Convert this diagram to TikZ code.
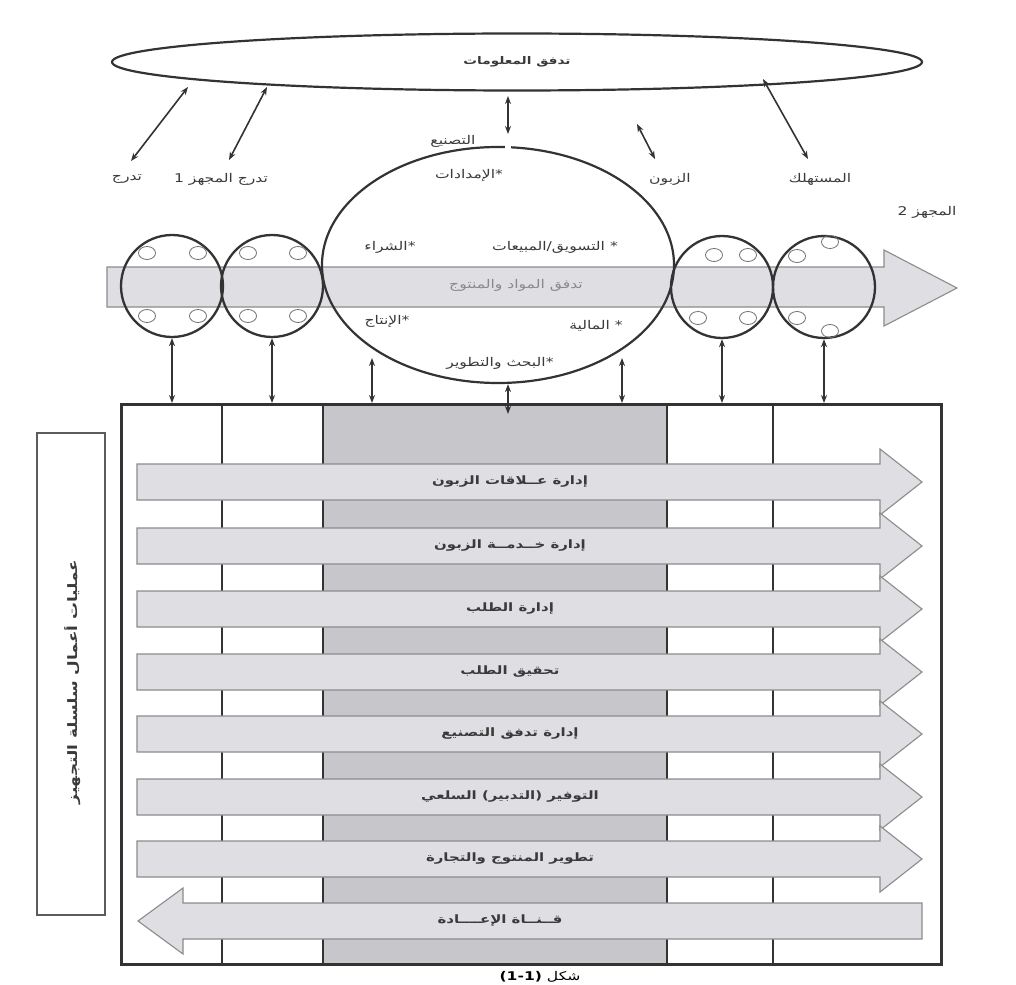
\documentclass[tikz,border=0pt]{standalone}
\usepackage{fontspec}
\usetikzlibrary{shapes.geometric,arrows.meta}
\newfontfamily\arabicfont[Script=Arabic,FakeStretch=1.3]{DejaVu Sans}
\TeXXeTstate=1
\definecolor{ln}{HTML}{333333}
\definecolor{txt}{HTML}{3A3A3A}
\definecolor{bandfill}{HTML}{DEDEE3}
\definecolor{bandline}{HTML}{8C8C8C}
\definecolor{colfill}{HTML}{C6C6CB}
\definecolor{flowtxt}{HTML}{8A8A8A}
\newcommand{\artxt}[1]{{\arabicfont\beginR #1\endR}}
\tikzset{
  lbl/.style={text=txt, inner sep=1pt, font=\fontsize{12}{14}\selectfont},
  dbl/.style={draw=ln, line width=1.6pt, {Stealth[length=8pt,width=6pt]}-{Stealth[length=8pt,width=6pt]}},
  bigcirc/.style={circle, draw=ln, line width=2.3pt, minimum size=102pt, inner sep=0pt},
  dot/.style={ellipse, draw=ln!70, line width=0.8pt, minimum width=17pt, minimum height=13pt, inner sep=0pt},
  procband/.style={draw=bandline, line width=1.1pt, fill=bandfill},
  proctxt/.style={text=txt, font=\fontsize{11.5}{14}\selectfont\bfseries, inner sep=0pt},
}
\begin{document}
\begin{tikzpicture}[x=1pt,y=-1pt]
\useasboundingbox (0,0) rectangle (1016,984);
\fill[white] (0,0) rectangle (1016,984);

% information flow ellipse
\node[ellipse, draw=ln, line width=2.2pt, minimum width=810pt, minimum height=57pt, lbl, font=\fontsize{10.5}{13}\selectfont\bfseries] (info) at (517,62) {\artxt{تدفق المعلومات}};

% labels
\node[lbl] (lt1) at (127,179) {\artxt{تدرج}};
\node[lbl] (lt2) at (221,179) {\artxt{تدرج المجهز 1}};
\node[lbl] (lcust) at (670,179) {\artxt{الزبون}};
\node[lbl] (lcons) at (820,179) {\artxt{المستهلك}};
\node[lbl] (lsup2) at (927,212) {\artxt{المجهز 2}};
\node[lbl] (manu) at (453,141) {\artxt{التصنيع}};

% arrows from info ellipse
\coordinate (a1t) at (188,87); \coordinate (a1b) at (131,161);
\coordinate (a2t) at (267,87); \coordinate (a2b) at (229,160);
\coordinate (a3t) at (508,96); \coordinate (a3b) at (508,134);
\coordinate (a4t) at (637,124); \coordinate (a4b) at (655,159);
\coordinate (a5t) at (763,79); \coordinate (a5b) at (808,159);
\draw[dbl] (a1t) -- (a1b);
\draw[dbl] (a2t) -- (a2b);
\draw[dbl] (a3t) -- (a3b);
\draw[dbl] (a4t) -- (a4b);
\draw[dbl] (a5t) -- (a5b);

% material flow band
\draw[procband] (107,267) -- (884,267) -- (884,250) -- (957,288) -- (884,326) -- (884,307) -- (107,307) -- cycle;
\node[lbl, text=flowtxt] (flow) at (516,285) {\artxt{تدفق المواد والمنتوج}};

% organisation ellipse
\node[ellipse, draw=ln, line width=2.2pt, minimum width=352pt, minimum height=236pt] (org) at (498,265) {};
\fill[white] (505,143) rectangle (511,151);
\node[lbl] (e1) at (469,175) {\artxt{*الإمدادات}};
\node[lbl] (e2) at (555,247) {\artxt{* التسويق/المبيعات}};
\node[lbl] (e3) at (390,247) {\artxt{*الشراء}};
\node[lbl] (e4) at (596,326) {\artxt{* المالية}};
\node[lbl] (e5) at (387,321) {\artxt{*الإنتاج}};
\node[lbl] (e6) at (500,363) {\artxt{*البحث والتطوير}};

% circles
\node[bigcirc] (c1) at (172,286) {};
\node[bigcirc] (c2) at (272,286) {};
\node[bigcirc] (c3) at (722,287) {};
\node[bigcirc] (c4) at (824,287) {};
\node[dot] (d11) at (147,253) {};
\node[dot] (d12) at (198,253) {};
\node[dot] (d13) at (147,316) {};
\node[dot] (d14) at (198,316) {};
\node[dot] (d21) at (248,253) {};
\node[dot] (d22) at (298,253) {};
\node[dot] (d23) at (248,316) {};
\node[dot] (d24) at (298,316) {};
\node[dot] (d31) at (714,255) {};
\node[dot] (d32) at (748,255) {};
\node[dot] (d33) at (698,318) {};
\node[dot] (d34) at (748,318) {};
\node[dot] (d41) at (797,256) {};
\node[dot] (d42) at (830,242) {};
\node[dot] (d43) at (797,318) {};
\node[dot] (d44) at (830,331) {};

% process box
\fill[colfill] (323,403) rectangle (667,963);
\draw[ln, line width=1.8pt] (222,403) -- (222,963);
\draw[ln, line width=1.8pt] (323,403) -- (323,963);
\draw[ln, line width=1.8pt] (667,403) -- (667,963);
\draw[ln, line width=1.8pt] (773,403) -- (773,963);
\node[draw=ln, line width=2.6pt, minimum width=820pt, minimum height=560pt, anchor=north west, inner sep=0pt] (box) at (120,403) {};

% vertical connectors
\draw[dbl] (c1.south) -- (c1.south |- box.north);
\draw[dbl] (c2.south) -- (c2.south |- box.north);
\draw[dbl] (c3.south) -- (c3.south |- box.north);
\draw[dbl] (c4.south) -- (c4.south |- box.north);
\coordinate (o1) at (372,358);
\coordinate (o2) at (622,358);
\coordinate (o3) at (508,414);
\draw[dbl] (o1) -- (o1 |- box.north);
\draw[dbl] (o2) -- (o2 |- box.north);
\draw[dbl] (org.south -| o3) -- (o3);

% process arrows
\foreach \c/\t in {482/{إدارة عــلاقات الزبون},546/{إدارة خــدمــة الزبون},609/{إدارة الطلب},672/{تحقيق الطلب},734/{إدارة تدفق التصنيع},797/{التوفير (التدبير) السلعي},859/{تطوير المنتوج والتجارة}}{
  \draw[procband] (137,\c-18) -- (880,\c-18) -- (880,\c-33) -- (922,\c) -- (880,\c+33) -- (880,\c+18) -- (137,\c+18) -- cycle;
  \node[proctxt] at (510,\c) {\artxt{\t}};
}
\draw[procband] (922,903) -- (183,903) -- (183,888) -- (138,921) -- (183,954) -- (183,939) -- (922,939) -- cycle;
\node[proctxt] (ret) at (500,921) {\artxt{قــنــاة الإعــــادة}};

% side label
\node[draw=ln!80, line width=1.6pt, rotate=90, minimum width=482pt, minimum height=68pt, inner sep=0pt] (proc) at (71,674) {};
\node[rotate=90, text=txt, font=\fontsize{13}{15}\selectfont\bfseries] (proct) at (73,682) {\artxt{عمليات أعمال سلسلة التجهيز}};

% caption
\node[lbl, font=\fontsize{12}{14}\selectfont, text=black] (cap) at (540,977) {\artxt{شكل \beginL\textbf{(1-1)}\endL}};
\end{tikzpicture}
\end{document}
